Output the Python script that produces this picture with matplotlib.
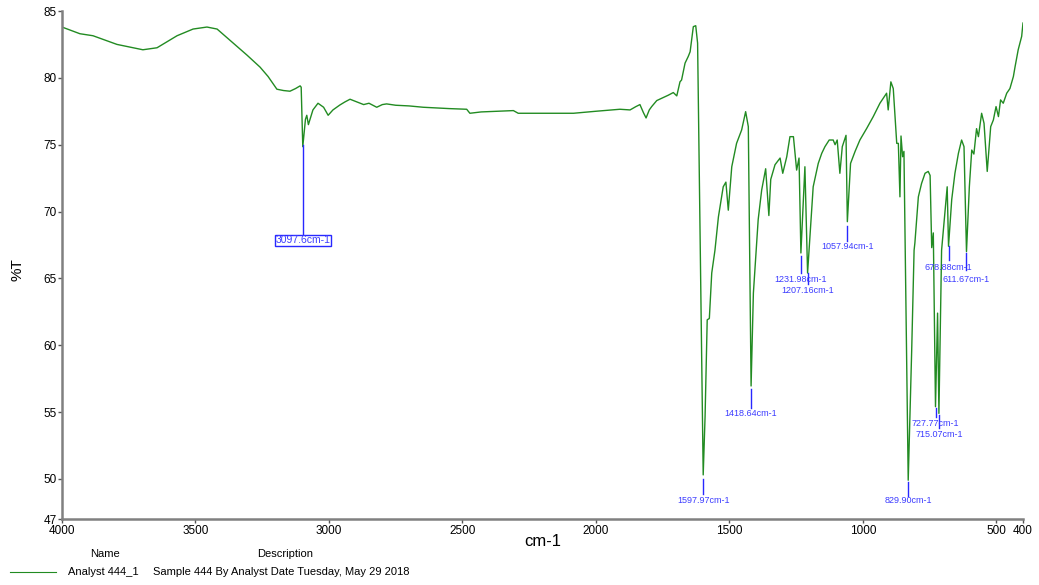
import matplotlib.pyplot as plt
import numpy as np

plt.rcParams['font.family'] = ['Liberation Sans', 'DejaVu Sans']

# spectre : nombre d'onde (cm-1) et transmittance (%T)
nombre_onde = [4000, 3933, 3884, 3794, 3697, 3644, 3569, 3509, 3457, 3419, 3359, 3307, 3258,
               3228, 3195, 3170, 3146, 3125, 3108, 3104, 3098, 3088, 3083, 3077, 3060, 3041,
               3020, 3003, 2985, 2959, 2940, 2921, 2896, 2870, 2850, 2821, 2800, 2784, 2750,
               2700, 2647, 2600, 2550, 2484, 2472, 2430, 2372, 2309, 2291, 2200, 2084, 2000,
               1910, 1872, 1850, 1835, 1822, 1812, 1800, 1791, 1772, 1750, 1729, 1710, 1697,
               1685, 1679, 1666, 1654, 1647, 1635, 1626, 1619, 1598, 1591, 1583, 1575, 1566,
               1554, 1541, 1523, 1513, 1504, 1491, 1473, 1454, 1439, 1429, 1418.6, 1410, 1392,
               1379, 1364, 1352, 1345, 1329, 1310, 1300, 1285, 1273, 1260, 1248, 1239, 1232,
               1217, 1207, 1186, 1167, 1154, 1142, 1126, 1111, 1104, 1096, 1086, 1077, 1063,
               1058, 1046, 1029, 1011, 986, 961, 936, 911, 905, 895, 886, 873, 867, 861, 857,
               851, 846, 830, 817, 808, 805, 792, 780, 767, 755, 748, 742, 736, 727.8, 720,
               715, 705, 684, 679, 667, 655, 642, 630, 621, 611.7, 601, 592, 584, 574, 567,
               555, 546, 534, 521, 511, 501, 492, 484, 474, 461, 449, 436, 430, 418, 405, 400]
transmittance = [83.8, 83.3, 83.15, 82.5, 82.1, 82.25, 83.15, 83.65, 83.8, 83.65, 82.6, 81.7, 80.8,
                 80.1, 79.15, 79.05, 79.0, 79.2, 79.4, 79.3, 74.85, 76.9, 77.2, 76.5, 77.6, 78.1,
                 77.8, 77.2, 77.6, 77.97, 78.2, 78.4, 78.2, 78.0, 78.1, 77.8, 78.0, 78.05, 77.95,
                 77.9, 77.8, 77.75, 77.7, 77.65, 77.35, 77.45, 77.5, 77.55, 77.35, 77.35, 77.35, 77.5,
                 77.65, 77.6, 77.85, 78.0, 77.4, 77.0, 77.6, 77.85, 78.3, 78.5, 78.7, 78.9, 78.65,
                 79.7, 79.84, 81.1, 81.6, 81.95, 83.83, 83.9, 82.6, 50.3, 54.65, 61.9, 62.0, 65.4,
                 67.1, 69.6, 71.85, 72.2, 70.1, 73.35, 75.1, 76.1, 77.47, 76.35, 56.95, 63.9, 69.4,
                 71.6, 73.2, 69.7, 72.4, 73.5, 74.0, 72.86, 74.1, 75.6, 75.6, 73.1, 74.0, 66.9,
                 73.35, 65.4, 71.85, 73.6, 74.35, 74.85, 75.35, 75.35, 75.0, 75.35, 72.86, 74.85, 75.7,
                 69.24, 73.6, 74.5, 75.35, 76.2, 77.1, 78.1, 78.85, 77.6, 79.7, 79.2, 75.1, 75.1, 71.1, 75.65,
                 74.1, 74.5, 49.9, 59.6, 67.1, 67.65, 71.1, 72.1, 72.86, 73.0, 72.7, 67.3, 68.4, 55.4, 62.4,
                 54.9, 67.1, 71.85, 67.4, 70.9, 72.86, 74.35, 75.35, 74.85, 67.0, 71.85, 74.6, 74.3, 76.2, 75.6,
                 77.35, 76.6, 73.0, 76.35, 76.85, 77.85, 77.1, 78.35, 78.1, 78.85, 79.2, 80.1, 80.8, 82.1, 83.1, 84.1]

# pics annotes : position, haut du trait, bas du trait, position du texte
pics = ['1597.97', '1418.64', '1231.98', '1207.16', '1057.94', '829.90', '727.77', '715.07', '678.88', '611.67']
pics_x = [1597.97, 1418.64, 1231.98, 1207.16, 1057.94, 829.90, 727.77, 715.07, 678.88, 611.67]
trait_haut = [50.0, 56.7, 66.7, 65.4, 68.9, 49.8, 55.3, 54.8, 67.4, 66.9]
trait_bas = [48.9, 55.3, 65.4, 64.6, 67.8, 48.7, 54.6, 53.8, 66.4, 65.6]
texte_y = [48.4, 54.9, 64.95, 64.1, 67.35, 48.4, 54.15, 53.35, 65.85, 64.95]

fig = plt.figure(figsize=(10.39, 5.85), dpi=100)
ax = fig.add_axes([62/1039, 1-519/585, (1023-62)/1039, (519-11)/585])

ax.plot(nombre_onde, transmittance, color='#228b22', linewidth=1.0)

for nom, x, h, b, ty in zip(pics, pics_x, trait_haut, trait_bas, texte_y):
    ax.plot([x, x], [h, b], color='#2828ff', linewidth=1.0)
    ax.text(x, ty, nom + 'cm-1', color='#3c3cff', fontsize=6.5, ha='center', va='center')

# pic 3097.6 avec cadre
ax.plot([3097.6, 3097.6], [75.0, 68.3], color='#2828ff', linewidth=1.0)
ax.text(3097.6, 67.85, '3097.6cm-1', color='#3c3cff', fontsize=7.5, ha='center', va='center',
        bbox=dict(boxstyle='square,pad=0.05', fc='white', ec='#2828ff', lw=1.0))

ax.set_xlim(4000, 400)
ax.set_ylim(47, 85)
ax.set_xticks([4000, 3500, 3000, 2500, 2000, 1500, 1000, 500, 400])
ax.set_yticks([47, 50, 55, 60, 65, 70, 75, 80, 85])
ax.tick_params(labelsize=8.5, length=3, color='#555555', width=1, pad=1)
for cote in ['top', 'right']:
    ax.spines[cote].set_visible(False)
for cote in ['left', 'bottom']:
    ax.spines[cote].set_color('#808080')
    ax.spines[cote].set_linewidth(1.8)

fig.text(18/1039, 1-270/585, '%T', rotation=90, fontsize=11, ha='center', va='center')
fig.text(543/1039, 1-542/585, 'cm-1', fontsize=12, ha='center', va='center')

# legende en bas
fig.text(105/1039, 1-554/585, 'Name', fontsize=8, ha='center', va='center')
fig.text(285/1039, 1-554/585, 'Description', fontsize=8, ha='center', va='center')
fig.add_artist(plt.Line2D([10/1039, 56/1039], [1-572/585, 1-572/585], color='#228b22', linewidth=0.8))
fig.text(68/1039, 1-572/585, 'Analyst 444_1', fontsize=8, ha='left', va='center')
fig.text(153/1039, 1-572/585, 'Sample 444 By Analyst Date Tuesday, May 29 2018', fontsize=8, ha='left', va='center')

plt.savefig('out.png', dpi=100)
